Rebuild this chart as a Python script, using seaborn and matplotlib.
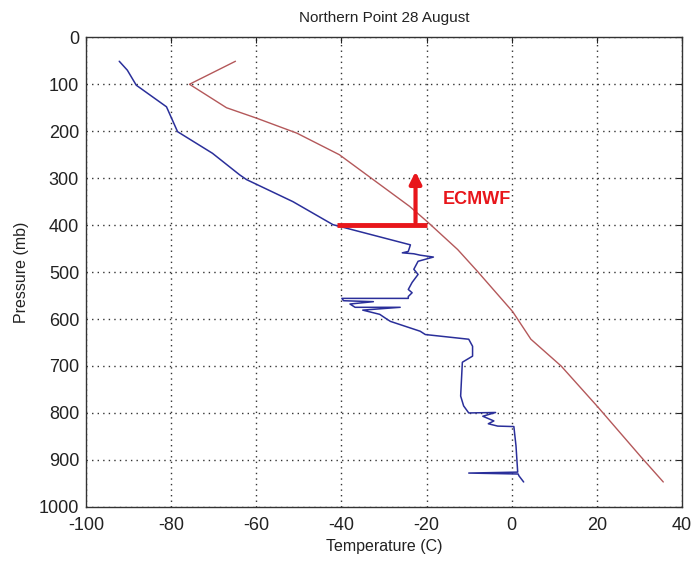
import matplotlib
matplotlib.use("Agg")
import matplotlib.pyplot as plt
import seaborn as sns
import pandas as pd

# Observed profile (blue)
obs_p = [51, 70, 102, 148, 201, 247, 293, 303, 350, 399, 442, 456, 459, 461, 464, 468,
         477, 494, 505, 522, 537, 544, 552, 556, 556, 561, 563, 568, 575, 575, 581, 590,
         598, 605, 626, 633, 643, 658, 679, 692, 764, 785, 800, 799, 807, 817, 823, 828,
         829, 870, 926, 928, 930, 934, 947]
obs_t = [-92.2, -90.3, -88.2, -81.1, -78.5, -70.3, -63.9, -62.3, -51.4, -42.0, -23.8,
         -24.3, -25.7, -23.0, -21.5, -18.4, -22.0, -23.0, -22.0, -23.4, -24.3, -23.4,
         -24.3, -24.3, -39.9, -39.5, -32.5, -38.0, -36.8, -26.2, -35.0, -31.0, -29.7,
         -28.5, -21.5, -20.3, -10.1, -9.2, -9.2, -11.6, -12.0, -11.3, -10.1, -3.8, -6.8,
         -4.2, -5.5, -3.3, 0.5, 1.0, 1.4, -10.1, 1.5, 1.7, 2.8]

# Model profile (red)
mod_p = [51, 100, 150, 172, 204, 250, 300, 360, 393, 452, 499, 584, 643, 700, 788, 894, 947]
mod_t = [-64.9, -75.7, -67.0, -60.0, -50.5, -40.5, -33.0, -24.0, -19.8, -12.7, -8.0,
         0.2, 4.5, 11.6, 20.3, 30.4, 35.6]

title = "Northern Point 28 August"
xlab = "Temperature (C)"
ylab = "Pressure (mb)"
ann_text = "ECMWF"
x_ticks = list(range(-100, 41, 20))
y_ticks = list(range(0, 1001, 100))

sns.set_style("white")
plt.rcParams['font.family'] = ['Liberation Sans', 'DejaVu Sans']
plt.rcParams['axes.unicode_minus'] = False

fig = plt.figure(figsize=(6.91, 5.61), dpi=100)
ax = fig.add_axes([0.1245, 0.0965, 0.8625, 0.837])

obs = pd.DataFrame({"T": obs_t, "P": obs_p})
mod = pd.DataFrame({"T": mod_t, "P": mod_p})
sns.lineplot(data=obs, x="T", y="P", sort=False, estimator=None, color="#2a2f9a",
             linewidth=1.1, ax=ax)
sns.lineplot(data=mod, x="T", y="P", sort=False, estimator=None, color="#b4585a",
             linewidth=1.0, ax=ax)

# ECMWF annotation
ax.plot([-41, -20], [400, 400], color="#e8161b", linewidth=3.5, solid_capstyle="butt")
ax.annotate("", xy=(-22.6, 280), xytext=(-22.6, 400),
            arrowprops=dict(arrowstyle="-|>,head_width=0.35,head_length=0.7",
                            color="#e8161b", lw=3))
ax.text(-8.3, 346, ann_text, color="#e8161b", fontsize=13, fontweight="bold",
        ha="center", va="center")

ax.set_xlim(-100, 40)
ax.set_ylim(1000, 0)
ax.set_xticks(x_ticks)
ax.set_yticks(y_ticks)
ax.grid(True, linestyle=(0, (1, 3)), color="#333333", linewidth=1.0)
ax.tick_params(direction="in", length=4, top=True, right=True, labelsize=13,
               colors="#222222")
ax.tick_params(axis="x", pad=7)
ax.tick_params(axis="y", pad=5)
for s in ax.spines.values():
    s.set_color("#333333")
    s.set_linewidth(1.0)
ax.set_title(title, fontsize=11, color="#222222", pad=11)
ax.set_xlabel(xlab, fontsize=11.5, color="#222222", labelpad=4)
ax.set_ylabel(ylab, fontsize=11.5, color="#222222", labelpad=7)

fig.savefig("out.png", dpi=100)
